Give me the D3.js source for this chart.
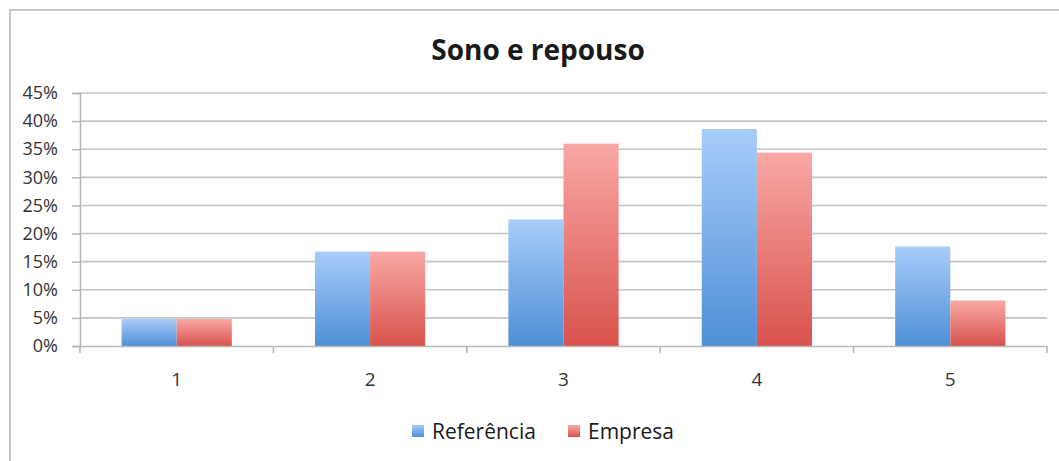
<!DOCTYPE html>
<html><head><meta charset="utf-8">
<script src="https://cdn.jsdelivr.net/npm/d3@7"></script>
<style>
html,body{margin:0;padding:0;background:#fff;}
svg{display:block;font-family:"Open Sans",sans-serif;}
</style></head>
<body>
<svg id="c" width="1059" height="461"></svg>
<script>
const title = "Sono e repouso";
const categories = ["1","2","3","4","5"];
const seriesNames = ["Referência","Empresa"];
const referencia = [0.048, 0.168, 0.225, 0.386, 0.177];
const empresa = [0.048, 0.168, 0.360, 0.344, 0.081];
const yTicks = [0,0.05,0.10,0.15,0.20,0.25,0.30,0.35,0.40,0.45];

const svg = d3.select("#c");

// border (left/top visible)
svg.append("path").attr("d","M10,461 V10 H1059").attr("fill","none")
  .attr("stroke","#c6c6c6").attr("stroke-width",2);

const defs = svg.append("defs");
function grad(id, c1, c2){
  const g = defs.append("linearGradient").attr("id",id).attr("x1",0).attr("y1",0).attr("x2",0).attr("y2",1);
  g.append("stop").attr("offset","0%").attr("stop-color",c1);
  g.append("stop").attr("offset","100%").attr("stop-color",c2);
}
grad("gBlue","#a8ccfa","#4e8fd6");
grad("gRed","#f9a8a5","#d8524d");
const fills = ["url(#gBlue)","url(#gRed)"];

const x = d3.scaleBand().domain(categories).range([80,1047]).paddingInner(0.43).paddingOuter(0.215);
const xs = d3.scaleBand().domain(seriesNames).range([0, x.bandwidth()]);
const y = d3.scaleLinear().domain([0,0.45]).range([346,93]);

// gridlines
svg.append("g").selectAll("line").data(yTicks.filter(d=>d>0)).join("line")
  .attr("x1",80).attr("x2",1047).attr("y1",d=>y(d)).attr("y2",d=>y(d))
  .attr("stroke","#c4c4c4").attr("stroke-width",1.6);

// y axis
const yAxis = d3.axisLeft(y).tickValues(yTicks).tickFormat(d3.format(".0%")).tickSize(8).tickPadding(14);
const gy = svg.append("g").attr("transform","translate(80,0)").call(yAxis);
gy.select(".domain").attr("stroke","#b8b8b8").attr("stroke-width",1.6);
gy.selectAll(".tick line").attr("stroke","#b8b8b8").attr("stroke-width",1.6);
gy.selectAll("text").attr("font-size",18).attr("fill","#333").attr("font-family","Open Sans");

// bars
const data = categories.map((c,i)=>({c, vals:[referencia[i], empresa[i]]}));
const groups = svg.append("g").selectAll("g").data(data).join("g")
  .attr("transform",d=>`translate(${x(d.c)},0)`);
groups.selectAll("rect").data(d=>d.vals.map((v,j)=>({v,j}))).join("rect")
  .attr("x",d=>xs(seriesNames[d.j])).attr("width",xs.bandwidth())
  .attr("y",d=>y(d.v)).attr("height",d=>y(0)-y(d.v))
  .attr("fill",d=>fills[d.j]);

// x axis
const xAxis = d3.axisBottom(x).tickSize(0).tickPadding(27);
const gx = svg.append("g").attr("transform","translate(0,346)").call(xAxis);
gx.select(".domain").attr("stroke","#b8b8b8").attr("stroke-width",1.6);
gx.selectAll("text").attr("font-size",19).attr("fill","#333").attr("font-family","Open Sans");
// boundary ticks
const bounds = [80].concat(categories.map(c=>x(c)+x.bandwidth()+x.step()*x.paddingInner()/2));
bounds[bounds.length-1] = 1047;
gx.append("g").selectAll("line").data(bounds).join("line")
  .attr("x1",d=>d).attr("x2",d=>d).attr("y1",0).attr("y2",7)
  .attr("stroke","#b8b8b8").attr("stroke-width",1.6);

// title
svg.append("text").attr("x",538).attr("y",60).attr("text-anchor","middle")
  .attr("font-size",28).attr("font-weight","bold").attr("fill","#1a1a1a").text(title);

// legend
const legX = [412, 568];
const lg = svg.append("g").selectAll("g").data(seriesNames).join("g")
  .attr("transform",(d,i)=>`translate(${legX[i]},0)`);
lg.append("rect").attr("x",0).attr("y",425).attr("width",12).attr("height",12)
  .attr("fill",(d,i)=>fills[i]);
lg.append("text").attr("x",20).attr("y",439).attr("font-size",21).attr("fill","#1a1a1a").text(d=>d);
</script>
</body></html>
